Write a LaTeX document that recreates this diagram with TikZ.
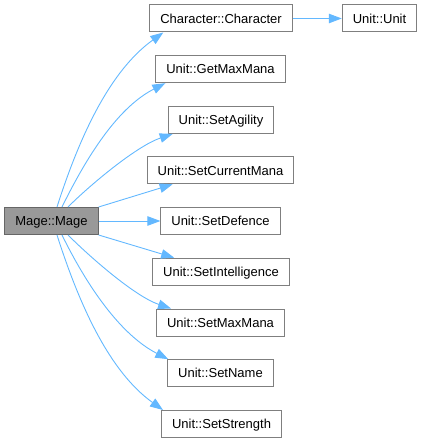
\documentclass[tikz,border=0pt]{standalone}
\usepackage{fontspec}
\setmainfont{Liberation Sans}
\usetikzlibrary{arrows.meta,calc}
\definecolor{edgec}{HTML}{63B8FF}
\definecolor{nodeb}{HTML}{7F7F7F}
\definecolor{rootf}{HTML}{999999}
\definecolor{rootb}{HTML}{666666}
\begin{document}
\begin{tikzpicture}[x=1pt,y=-1pt,
  box/.style={draw=nodeb, fill=white, line width=1pt, minimum height=27pt,
    inner xsep=10.5pt, inner ysep=0pt, text height=9.5pt, text depth=0pt,
    font=\fontsize{13}{15}\selectfont},
  root/.style={box, draw=rootb, fill=rootf},
  edge/.style={draw=edgec, line width=0.9pt, -{Triangle[length=13pt,width=9.5pt]}}]
\useasboundingbox (0,0) rectangle (426,443);
\node[root] (mage) at (51.5,221) {Mage::Mage};
\node[box] (char) at (221,18.5) {Character::Character};
\node[box] (unit) at (379.5,18.5) {Unit::Unit};
\node[box] (getmax) at (220.5,69.2) {Unit::GetMaxMana};
\node[box] (agility) at (221,119.9) {Unit::SetAgility};
\node[box] (curmana) at (220.5,170.3) {Unit::SetCurrentMana};
\node[box] (defence) at (220.5,221) {Unit::SetDefence};
\node[box] (intel) at (221,271.7) {Unit::SetIntelligence};
\node[box] (setmax) at (220.5,322.5) {Unit::SetMaxMana};
\node[box] (name) at (220.5,373.2) {Unit::SetName};
\node[box] (strength) at (221.5,424) {Unit::SetStrength};

\draw[edge] (char) -- (unit);

\draw[edge] ($(mage.north)+(5.5,0)$) .. controls +(23,-72) and +(-53,38) .. ($(char.south west)+(14,0)$);
\draw[edge] ($(mage.north)+(10.5,0)$) .. controls +(28,-57) and +(-45,23) .. ($(getmax.south west)+(10,0)$);
\draw[edge] ($(mage.north)+(16.5,0)$) .. controls +(22,-22) and +(-36,12) .. ($(agility.south west)+(5,0)$);
\draw[edge] (mage.north east) -- ($(curmana.south west)+(26,0)$);
\draw[edge] (mage.east) -- (defence.west);
\draw[edge] (mage.south east) -- ($(intel.north west)+(22,0)$);
\draw[edge] ($(mage.south)+(16.5,0)$) .. controls +(22,22) and +(-36,-12) .. ($(setmax.north west)+(15,0)$);
\draw[edge] ($(mage.south)+(10.5,0)$) .. controls +(28,57) and +(-45,-23) .. ($(name.north west)+(1,0)$);
\draw[edge] ($(mage.south)+(5.5,0)$) .. controls +(23,72) and +(-53,-38) .. ($(strength.north west)+(2,0)$);
\end{tikzpicture}
\end{document}
